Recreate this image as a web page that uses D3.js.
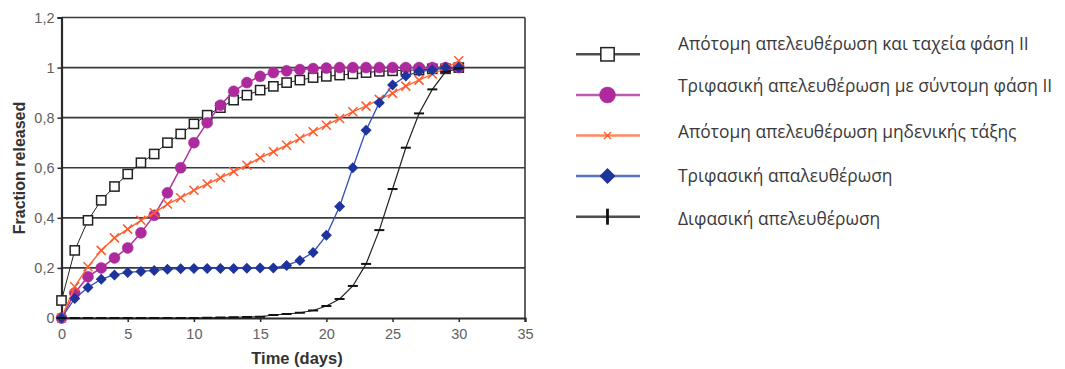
<!DOCTYPE html>
<html><head><meta charset="utf-8">
<script src="https://cdn.jsdelivr.net/npm/d3@7"></script>
<style>body{margin:0;background:#fff}svg{display:block}</style>
</head><body><svg id="c" width="1065" height="369"></svg>
<script>
const days = d3.range(0, 31);
const seriesNames = [
  "Απότομη απελευθέρωση και ταχεία φάση ΙΙ",
  "Τριφασική απελευθέρωση με σύντομη φάση ΙΙ",
  "Απότομη απελευθέρωση μηδενικής τάξης",
  "Τριφασική απαλευθέρωση",
  "Διφασική απελευθέρωση"
];
const burstFast = [0.07,0.27,0.39,0.47,0.525,0.575,0.62,0.655,0.70,0.735,0.775,0.81,0.84,0.87,0.89,0.91,0.925,0.94,0.95,0.96,0.965,0.97,0.975,0.98,0.985,0.987,0.99,0.99,0.995,0.995,1.0];
const triShort = [0,0.10,0.165,0.20,0.24,0.28,0.34,0.41,0.50,0.60,0.70,0.78,0.85,0.905,0.94,0.965,0.98,0.987,0.992,0.996,0.998,1,1,1,1,1,1,1,1,1,1];
const zeroOrder = [0,0.125,0.205,0.27,0.32,0.355,0.39,0.42,0.455,0.48,0.51,0.535,0.56,0.585,0.61,0.64,0.664,0.69,0.717,0.744,0.77,0.797,0.824,0.846,0.873,0.897,0.926,0.95,0.974,0.997,1.027];
const triphasic = [0,0.078,0.122,0.155,0.172,0.182,0.186,0.19,0.195,0.197,0.198,0.198,0.198,0.198,0.199,0.2,0.2,0.21,0.23,0.262,0.33,0.445,0.60,0.75,0.86,0.93,0.966,0.985,0.99,1.0,1.0];
const biphasic = [0,0,0,0,0,0,0,0,0,0,0,0.001,0.002,0.003,0.004,0.005,0.012,0.016,0.021,0.03,0.048,0.076,0.128,0.216,0.351,0.515,0.68,0.817,0.913,0.983,0.997];
const xTicks = [0,5,10,15,20,25,30,35];
const yTicks = [0,0.2,0.4,0.6,0.8,1,1.2];
const yTickLabels = ["0","0,2","0,4","0,6","0,8","1","1,2"];
const xTitle = "Time (days)";
const yTitle = "Fraction released";

const styles = [
  {line:"#222", lw:1, marker:"square", color:"#222"},
  {line:"#b0309f", lw:1.5, marker:"circle", color:"#ad2a9c"},
  {line:"#ff6a3d", lw:1.5, marker:"x", color:"#ff5a2a"},
  {line:"#3050b8", lw:1.3, marker:"diamond", color:"#1f339c"},
  {line:"#222", lw:1.2, marker:"dash", color:"#111"}
];
const data = [burstFast, triShort, zeroOrder, triphasic, biphasic];

const svg = d3.select("#c");
const L = 61.5, R = 525, T = 17.5, B = 318;
const x = d3.scaleLinear().domain([0,35]).range([L,R]);
const y = d3.scaleLinear().domain([0,1.2]).range([B,T]);

// gridlines
svg.append("g").selectAll("line").data(yTicks.slice(1)).join("line")
  .attr("x1",L).attr("x2",R).attr("y1",d=>y(d)).attr("y2",d=>y(d))
  .attr("stroke","#3a3a3a").attr("stroke-width",1.6);
// right border
svg.append("line").attr("x1",R).attr("x2",R).attr("y1",T).attr("y2",B)
  .attr("stroke","#3a3a3a").attr("stroke-width",1.6);

// axes
const yAxis = d3.axisLeft(y).tickValues(yTicks).tickFormat((d,i)=>yTickLabels[i]).tickSize(4).tickPadding(3);
const xAxis = d3.axisBottom(x).tickValues(xTicks).tickSize(4).tickPadding(7);
const gy = svg.append("g").attr("transform",`translate(${L},0)`).call(yAxis);
const gx = svg.append("g").attr("transform",`translate(0,${B})`).call(xAxis);
[gx,gy].forEach(g=>{
  g.select(".domain").attr("stroke","#2a2a2a").attr("stroke-width",2.2);
  g.selectAll(".tick line").attr("stroke","#2a2a2a").attr("stroke-width",1.5);
  g.selectAll("text").attr("font-family","'Liberation Sans', Arial, sans-serif").attr("font-size",14.5).attr("fill","#5f5f5f");
});

svg.append("text").attr("x",297).attr("y",364).attr("text-anchor","middle")
  .attr("font-family","'Liberation Sans', Arial, sans-serif").attr("font-weight","bold").attr("font-size",16.5).attr("fill","#333")
  .text(xTitle);
svg.append("text").attr("transform","translate(25,168) rotate(-90)").attr("text-anchor","middle")
  .attr("font-family","'Liberation Sans', Arial, sans-serif").attr("font-weight","bold").attr("font-size",16).attr("fill","#333")
  .text(yTitle);

function drawMarker(g, type, cx, cy, color, legend){
  const k = legend ? 1.45 : 1;
  if(type==="square") g.append("rect").attr("x",cx-4.6*k).attr("y",cy-4.6*k).attr("width",9.2*k).attr("height",9.2*k).attr("fill","#fff").attr("stroke",color).attr("stroke-width",1.5);
  else if(type==="circle") g.append("circle").attr("cx",cx).attr("cy",cy).attr("r",5.5*k).attr("fill",color).attr("stroke",color).attr("stroke-width",0.5);
  else if(type==="diamond") g.append("path").attr("d",`M${cx},${cy-5.5*k}L${cx+5.5*k},${cy}L${cx},${cy+5.5*k}L${cx-5.5*k},${cy}Z`).attr("fill",color);
  else if(type==="x") { const s=legend?3.5:4.5; g.append("path").attr("d",`M${cx-s},${cy-s}L${cx+s},${cy+s}M${cx-s},${cy+s}L${cx+s},${cy-s}`).attr("stroke",color).attr("stroke-width",legend?1.3:1.5).attr("fill","none"); }
  else if(type==="dash") {
    if(legend) g.append("line").attr("x1",cx).attr("x2",cx).attr("y1",cy-8).attr("y2",cy+8).attr("stroke",color).attr("stroke-width",2.8);
    else g.append("line").attr("x1",cx-5).attr("x2",cx+5).attr("y1",cy).attr("y2",cy).attr("stroke",color).attr("stroke-width",2);
  }
}

const line = d3.line().x((d,i)=>x(days[i])).y(d=>y(d));
data.forEach((vals,si)=>{
  const st = styles[si];
  const g = svg.append("g");
  g.append("path").attr("d",line(vals)).attr("fill","none").attr("stroke",st.line).attr("stroke-width",st.lw);
  vals.forEach((v,i)=>drawMarker(g, st.marker, x(days[i]), y(v), st.color, false));
});

// legend
const legY = [54.3, 95, 135.5, 176, 216.7];
const legTextY = [50, 92, 138, 182, 225];
seriesNames.forEach((name,i)=>{
  const st = styles[i];
  const g = svg.append("g");
  g.append("line").attr("x1",576).attr("x2",640).attr("y1",legY[i]).attr("y2",legY[i])
    .attr("stroke",st.line).attr("stroke-width",2.4).attr("opacity",0.8);
  drawMarker(g, st.marker, 607.5, legY[i], st.color, true);
  g.append("text").attr("x",678).attr("y",legTextY[i])
    .attr("font-family","'Open Sans', 'Noto Sans', sans-serif").attr("font-size",17.4).attr("fill","#3a3a3a").text(name);
});
</script></body></html>
